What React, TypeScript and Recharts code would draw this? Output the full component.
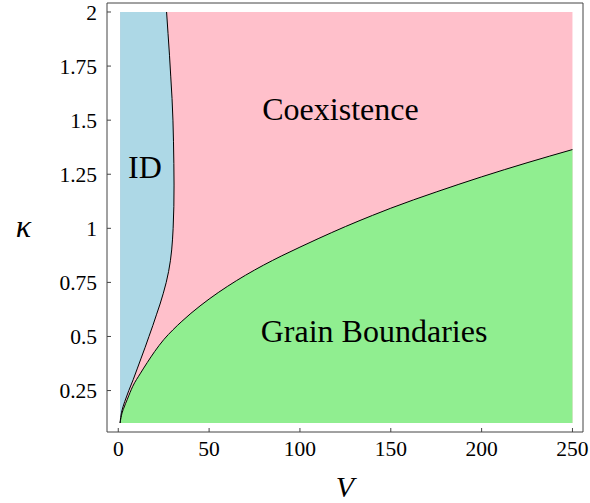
import { ComposedChart, Area, Scatter, XAxis, YAxis, ReferenceDot, Label } from 'recharts';

const FONT = '"Liberation Serif", "Times New Roman", serif';
const FRAME = '#444';

// extent of the computed phase diagram
const vSpan = [1, 250];
const kappaSpan = [0.1, 2];

// ID / Coexistence boundary: V at each kappa
const idKappa = [0.1, 0.125, 0.15, 0.2, 0.25, 0.3, 0.35, 0.4, 0.45, 0.5, 0.55, 0.6, 0.65, 0.7, 0.75, 0.8, 0.85, 0.9, 1.0, 1.1, 1.2, 1.3, 1.4, 1.5, 1.6, 1.7, 1.8, 1.9, 2.0];
const idV = [1.0, 1.3, 1.8, 3.6, 5.8, 8.2, 10.4, 12.6, 14.8, 16.9, 19.0, 21.0, 23.0, 24.8, 26.4, 27.7, 28.7, 29.4, 30.2, 30.6, 30.7, 30.6, 30.4, 30.1, 29.6, 28.9, 28.2, 27.4, 26.6];

// Coexistence / Grain Boundaries line: kappa at each V
const gbV = [1, 1.5, 2, 3, 5, 8, 12, 16, 20, 25, 30, 35, 40, 50, 60, 70, 80, 90, 100, 110, 125, 140, 150, 175, 200, 225, 250];
const gbKappa = [0.1, 0.125, 0.143, 0.168, 0.21, 0.27, 0.327, 0.38, 0.43, 0.485, 0.53, 0.57, 0.607, 0.673, 0.731, 0.783, 0.83, 0.873, 0.913, 0.952, 1.008, 1.06, 1.093, 1.168, 1.238, 1.303, 1.364];

const xMajor = [0, 50, 100, 150, 200, 250];
const xMinor = [10, 20, 30, 40, 60, 70, 80, 90, 110, 120, 130, 140, 160, 170, 180, 190, 210, 220, 230, 240];
const yMajor = [0.25, 0.5, 0.75, 1, 1.25, 1.5, 1.75, 2];
const yMinor = [0.15, 0.2, 0.3, 0.35, 0.4, 0.45, 0.55, 0.6, 0.65, 0.7, 0.8, 0.85, 0.9, 0.95, 1.05, 1.1, 1.15, 1.2, 1.3, 1.35, 1.4, 1.45, 1.55, 1.6, 1.65, 1.7, 1.8, 1.85, 1.9, 1.95];

const regionNames = ['ID', 'Coexistence', 'Grain Boundaries'];
const regionV = [14.7, 122.3, 140.8];
const regionKappa = [1.283, 1.552, 0.525];

const xDomain = [-6.2, 255.8];
const yDomain = [0.0584, 2.0416];

const idLine = idKappa.map((k, i) => ({ v: idV[i], k }));
const idRegion = [...idLine, { v: vSpan[0], k: kappaSpan[1] }, { v: vSpan[0], k: kappaSpan[0] }];
const coexRegion = vSpan.map((v) => ({ v, k: kappaSpan[1] }));
const gbRegion = gbV.map((v, i) => ({ v, k: gbKappa[i] }));

const noPoint = () => <g />;

const tickText = { fill: '#000', fontSize: 21.5, fontFamily: FONT };
const frameLine = { stroke: FRAME };

export default function App() {
  return (
    <div style={{ position: 'absolute', left: 0, top: 0, width: 590, height: 503, background: '#fff', fontFamily: FONT }}>
      <ComposedChart width={590} height={503} margin={{ top: 2, right: 6, bottom: 70, left: 106 }}>
        {/* frame axes: major ticks point inward (negative tickSize) */}
        <XAxis dataKey="v" type="number" domain={xDomain} allowDataOverflow ticks={xMajor} interval={0}
          height={1} tickSize={-4} tickMargin={13} axisLine={frameLine} tickLine={frameLine} tick={tickText}>
          <Label value="V" position="bottom" offset={43} fontSize={30} fill="#000" fontFamily={FONT} fontStyle="italic" />
        </XAxis>
        <YAxis dataKey="k" type="number" domain={yDomain} allowDataOverflow ticks={yMajor} interval={0}
          width={1} tickSize={-4} tickMargin={14} axisLine={frameLine} tickLine={frameLine} tick={tickText}>
          <Label value="κ" position="left" offset={75} dy={8} fontSize={32} fill="#000" fontFamily={FONT} fontStyle="italic" />
        </YAxis>
        <XAxis xAxisId="top" orientation="top" type="number" domain={xDomain} allowDataOverflow ticks={xMajor} interval={0}
          height={1} tickSize={-4} tick={false} axisLine={frameLine} tickLine={frameLine} />
        <YAxis yAxisId="right" orientation="right" type="number" domain={yDomain} allowDataOverflow ticks={yMajor} interval={0}
          width={1} tickSize={-4} tick={false} axisLine={frameLine} tickLine={frameLine} />

        {/* minor ticks, mirrored so they sit inside the frame */}
        <XAxis xAxisId="bMin" type="number" domain={xDomain} allowDataOverflow ticks={xMinor} interval={0} mirror height={1} tick={false} tickSize={2} axisLine={false} tickLine={frameLine} />
        <XAxis xAxisId="tMin" orientation="top" type="number" domain={xDomain} allowDataOverflow ticks={xMinor} interval={0} mirror height={1} tick={false} tickSize={2} axisLine={false} tickLine={frameLine} />
        <YAxis yAxisId="lMin" type="number" domain={yDomain} allowDataOverflow ticks={yMinor} interval={0} mirror width={1} tick={false} tickSize={2} axisLine={false} tickLine={frameLine} />
        <YAxis yAxisId="rMin" orientation="right" type="number" domain={yDomain} allowDataOverflow ticks={yMinor} interval={0} mirror width={1} tick={false} tickSize={2} axisLine={false} tickLine={frameLine} />

        {/* phase regions */}
        <Area data={coexRegion} dataKey="k" baseValue={kappaSpan[0]} type="linear" fill="#FFC0CB" fillOpacity={1} stroke="none" isAnimationActive={false} />
        <Scatter data={idRegion} line={{ fill: '#ADD8E6', stroke: 'none' }} lineJointType="linear" shape={noPoint} isAnimationActive={false} />
        <Area data={gbRegion} dataKey="k" baseValue={kappaSpan[0]} type="monotone" fill="#90EE90" fillOpacity={1} stroke="#000" strokeWidth={1} isAnimationActive={false} />
        <Scatter data={idLine} line={{ stroke: '#000', strokeWidth: 1 }} lineJointType="monotoneY" shape={noPoint} isAnimationActive={false} />

        {regionNames.map((name, i) => (
          <ReferenceDot key={name} x={regionV[i]} y={regionKappa[i]} r={0} fill="none" stroke="none" ifOverflow="visible"
            label={{ value: name, position: 'center', fontSize: 32, fill: '#000', fontFamily: FONT }} />
        ))}
      </ComposedChart>
    </div>
  );
}
